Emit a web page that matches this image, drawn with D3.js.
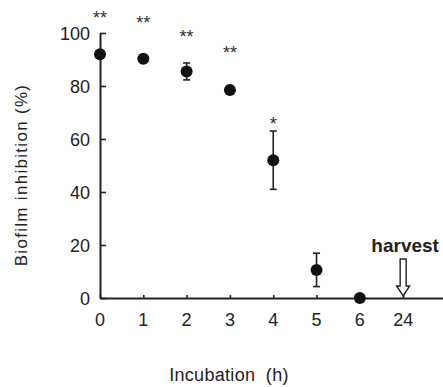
<!DOCTYPE html>
<html><head><meta charset="utf-8">
<script src="https://cdn.jsdelivr.net/npm/d3@7"></script>
<style>body{margin:0;background:#fff}svg{display:block}</style>
</head><body>
<script>
const categories = ["0","1","2","3","4","5","6","24"];
const values = [92, 90.3, 85.5, 78.5, 52, 10.6, 0];
const errors = [0, 0, 3.2, 0, 11, 6.3, 0];
const starLabels = ["**","**","**","**","*"];
const starPos = [107.2, 105.3, 100, 94, 67.2];
const yTicks = [0, 20, 40, 60, 80, 100];
const harvestIndex = 7;

(function () {
const W = 443, H = 387;
const svg = d3.select("body").append("svg").attr("width", W).attr("height", H);
const font = "'Liberation Sans', Arial, sans-serif";
const ink = "#222";

const x = d3.scaleLinear().domain([0, 7.92]).range([100, 443]);
const y = d3.scaleLinear().domain([0, 100]).range([298, 33]);

// y axis
const yAxis = svg.append("g").attr("transform", "translate(100,0)")
  .call(d3.axisRight(y).tickValues(yTicks).tickSize(6).tickSizeOuter(0).tickFormat(""));
yAxis.select(".domain").attr("stroke", ink).attr("stroke-width", 2);
yAxis.selectAll(".tick line").attr("stroke", ink).attr("stroke-width", 1.6);
svg.selectAll(".ylab").data(yTicks).join("text")
  .attr("x", 90).attr("y", d => y(d) + 6.5).attr("text-anchor", "end")
  .attr("font-family", font).attr("font-size", 18).attr("fill", ink).text(d => d);

// x axis
const xAxis = svg.append("g").attr("transform", "translate(0,298)")
  .call(d3.axisTop(x).tickValues(d3.range(categories.length)).tickSize(3).tickSizeOuter(0).tickFormat(""));
xAxis.select(".domain").attr("stroke", ink).attr("stroke-width", 2);
xAxis.selectAll(".tick line").attr("stroke", ink).attr("stroke-width", 1.6);
svg.selectAll(".xlab").data(categories).join("text")
  .attr("x", (d, i) => x(i)).attr("y", 326).attr("text-anchor", "middle")
  .attr("font-family", font).attr("font-size", 18).attr("fill", ink).text(d => d);

// error bars
const eb = svg.append("g").attr("stroke", ink).attr("stroke-width", 1.6);
values.forEach((v, i) => {
  if (!errors[i]) return;
  const cx = x(i);
  eb.append("line").attr("x1", cx).attr("x2", cx).attr("y1", y(v + errors[i])).attr("y2", y(v - errors[i]));
  eb.append("line").attr("x1", cx - 3.5).attr("x2", cx + 3.5).attr("y1", y(v + errors[i])).attr("y2", y(v + errors[i]));
  eb.append("line").attr("x1", cx - 3.5).attr("x2", cx + 3.5).attr("y1", y(v - errors[i])).attr("y2", y(v - errors[i]));
});

// points
svg.selectAll(".pt").data(values).join("circle")
  .attr("cx", (d, i) => x(i)).attr("cy", d => y(d)).attr("r", 6).attr("fill", "#111");

// stars
svg.selectAll(".star").data(starLabels).join("text")
  .attr("x", (d, i) => x(i)).attr("y", (d, i) => y(starPos[i]) + 10.4).attr("text-anchor", "middle")
  .attr("font-family", font).attr("font-size", 18).attr("fill", "#333").text(d => d);

// harvest
const hx = x(harvestIndex);
svg.append("text").attr("x", hx + 2).attr("y", 252).attr("text-anchor", "middle")
  .attr("font-family", font).attr("font-size", 19).attr("font-weight", "bold").attr("fill", ink).text("harvest");
const aTop = 259, aBot = 296, sw = 3, hw = 6.5, hh = 10;
svg.append("path")
  .attr("d", `M${hx - sw},${aTop} L${hx + sw},${aTop} L${hx + sw},${aBot - hh} L${hx + hw},${aBot - hh} L${hx},${aBot} L${hx - hw},${aBot - hh} L${hx - sw},${aBot - hh} Z`)
  .attr("fill", "#fff").attr("stroke", ink).attr("stroke-width", 1.4);

// axis titles
svg.append("text").attr("transform", "translate(27,175) rotate(-90)").attr("text-anchor", "middle")
  .attr("font-family", font).attr("font-size", 17).attr("letter-spacing", 1.3).attr("fill", ink)
  .text("Biofilm inhibition (%)");
svg.append("text").attr("x", 229).attr("y", 381).attr("text-anchor", "middle")
  .style("white-space", "pre").attr("letter-spacing", 0.3)
  .attr("font-family", font).attr("font-size", 18).attr("fill", ink).text("Incubation  (h)");
})();
</script>
</body></html>
